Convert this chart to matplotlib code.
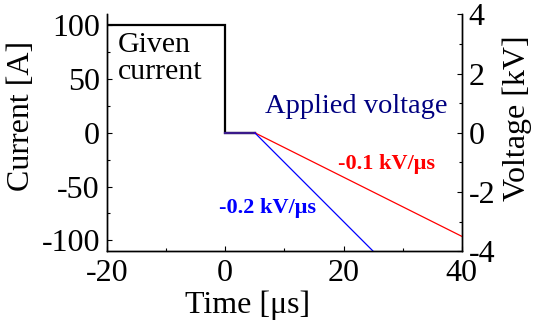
import matplotlib
matplotlib.use("Agg")
import matplotlib.pyplot as plt
from matplotlib.ticker import MultipleLocator

plt.rcParams['font.family'] = ['Liberation Serif', 'DejaVu Serif']
plt.rcParams['axes.unicode_minus'] = False

# Given current [A]
current_t = [-20, 0, 0, 5]
current_a = [100, 100, 0, 0]

# Applied voltage [kV]: hold at 0 then ramp
hold_t = [0, 5]
hold_v = [0, 0]
ramp_slow_t = [5, 40]
ramp_slow_v = [0, -3.5]
ramp_fast_t = [5, 25]
ramp_fast_v = [0, -4.0]

fig = plt.figure(figsize=(5.37, 3.27), dpi=100)
ax = fig.add_axes([0.199, 0.232, 0.661, 0.724])
ax2 = ax.twinx()

ax.plot(current_t, current_a, color='black', lw=1.6, solid_joinstyle='miter')
ax2.plot(hold_t, hold_v, color='#3a1a8a', lw=1.6)
ax2.plot(ramp_slow_t, ramp_slow_v, color='#ff0000', lw=0.9)
ax2.plot(ramp_fast_t, ramp_fast_v, color='#0000ff', lw=0.9)

ax.set_xlim(-20, 40)
ax.set_ylim(-110, 110)
ax2.set_ylim(-4, 4)

ax.xaxis.set_major_locator(MultipleLocator(20))
ax.xaxis.set_minor_locator(MultipleLocator(10))
ax.set_yticks([100, 50, 0, -50, -100])
ax.yaxis.set_minor_locator(MultipleLocator(25))
ax2.set_yticks([4, 2, 0, -2, -4])
ax2.yaxis.set_minor_locator(MultipleLocator(1))

for a in (ax, ax2):
    a.spines['top'].set_visible(False)
    for s in a.spines.values():
        s.set_linewidth(1.0)
    a.tick_params(which='major', direction='in', length=3.5, width=0.8,
                  labelsize=23, pad=5)
    a.tick_params(which='minor', direction='in', length=2.5, width=0.8)

ax.tick_params(axis='x', pad=6)

ax.set_xlabel('Time [μs]', fontsize=23)
ax.xaxis.label.set_va('baseline')
ax.xaxis.set_label_coords(0.396, -0.262)
ax.set_ylabel('Current [A]', fontsize=23)
ax.yaxis.set_label_coords(-0.2, 0.57)
ax2.set_ylabel('Voltage [kV]', fontsize=23)
ax2.yaxis.set_label_coords(1.115, 0.56)

ax.text(-18.2, 94, 'Given\ncurrent', fontsize=21.5, va='top', ha='left',
        linespacing=1.05)
ax.text(22.2, 18, 'Applied voltage', fontsize=20.5, color='#000080',
        ha='center', va='baseline')
ax.text(27.3, -34, '-0.1 kV/μs', fontsize=16, fontweight='bold',
        color='#ff0000', ha='center', va='baseline')
ax.text(7.2, -75, '-0.2 kV/μs', fontsize=16, fontweight='bold',
        color='#0000ff', ha='center', va='baseline')

fig.savefig('out.png', dpi=100)
